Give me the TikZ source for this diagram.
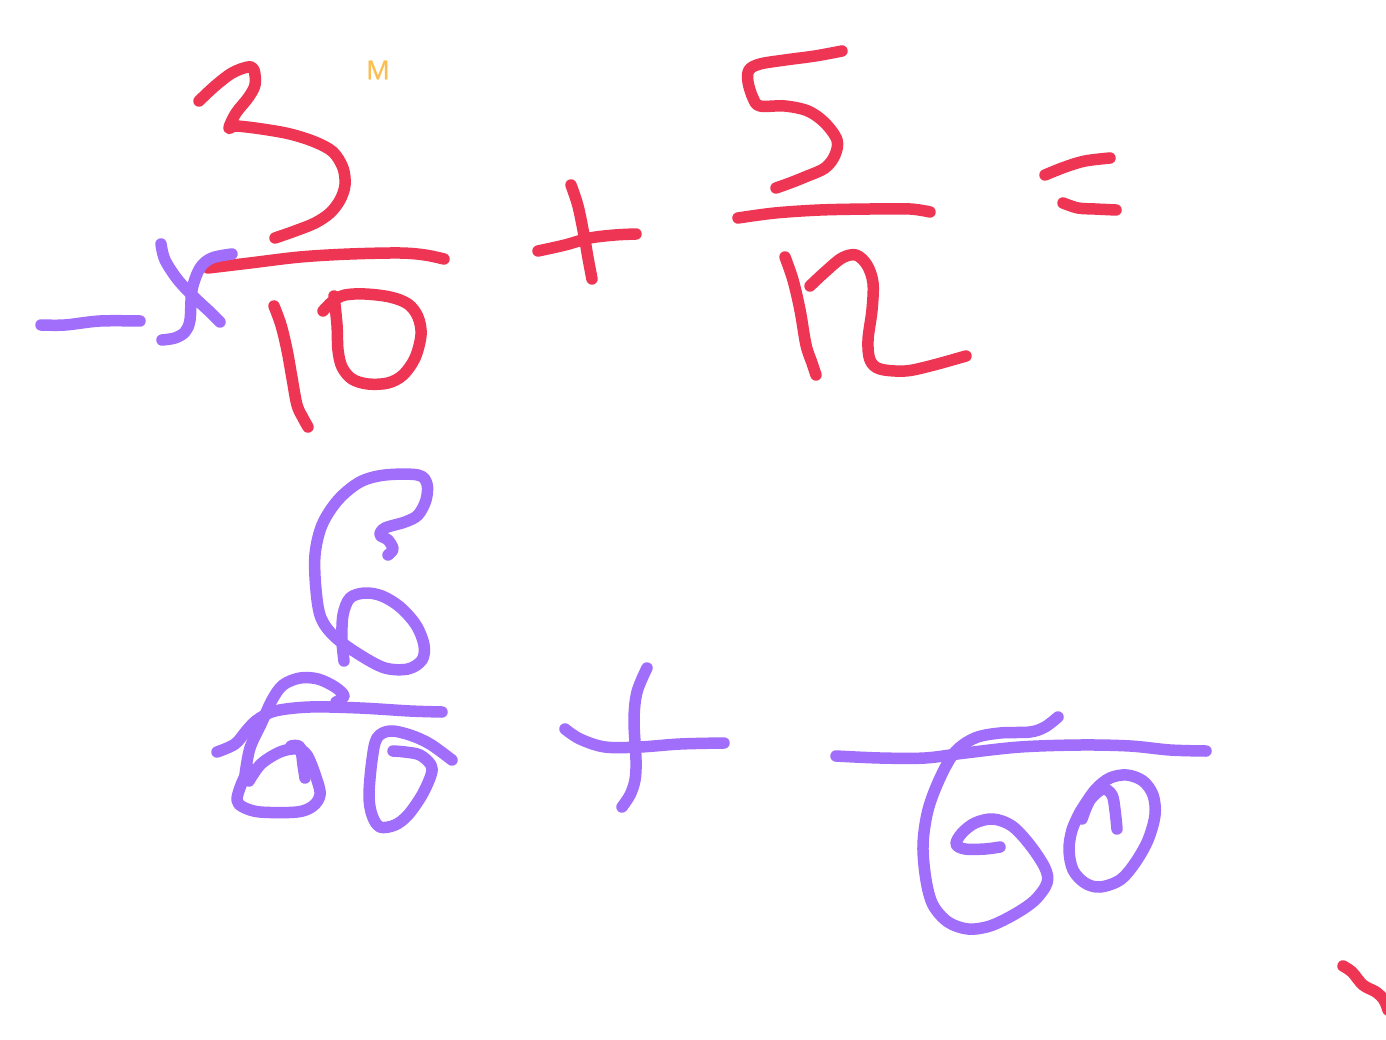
\documentclass[tikz,border=0pt]{standalone}
\usepackage{fontspec}
\setmainfont{Open Sans}
\definecolor{inkred}{HTML}{EE3553}
\definecolor{inkviolet}{HTML}{A06EFA}
\definecolor{inkgold}{HTML}{FBBE50}
\tikzset{
  pen/.style={line width=11.5pt,line cap=round,line join=round},
  redpen/.style={pen,draw=inkred},
  violetpen/.style={pen,draw=inkviolet},
  sm/.style={smooth,tension=0.55},
}
\newcommand{\redstroke}[1]{\draw[redpen] plot[sm] coordinates {#1};}
\newcommand{\vistroke}[1]{\draw[violetpen] plot[sm] coordinates {#1};}
\begin{document}
\begin{tikzpicture}[x=1pt,y=-1pt]
\useasboundingbox (0,0) rectangle (1386,1040);
\fill[white] (0,0) rectangle (1386,1040);
\begin{scope}
\path[clip,rounded corners=12pt] (0,0) rectangle (1386,1040);
% ---- red strokes
% 3
\redstroke{(199,101)(215,86)(232,73)(248,67)(254,70)(255,85)(248,98)(236,113)(229,128)(236,126)(262,129)(290,134)(315,142)(333,152)(343,168)(345,185)(340,200)(330,213)(315,223)(295,231)(275,238)}
% fraction bar 1
\redstroke{(208,268)(250,263)(300,257)(350,254)(400,253)(425,255)(444,259)}
% 1
\redstroke{(274,306)(281,325)(287,350)(292,378)(297,405)(303,418)(308,427)}
% 0
\redstroke{(323,311)(333,301)(345,295)(365,294)(390,297)(408,304)(418,317)(421,335)(415,358)(403,375)(388,383)(368,384)(352,379)(342,367)(338,350)(337,325)(334,296)}
% plus
\redstroke{(571,185)(578,206)(584,235)(588,258)(592,279)}
\redstroke{(538,251)(565,245)(590,238)(615,235)(636,234)}
% 5
\redstroke{(842,51)(815,56)(785,60)(760,64)(749,70)(748,82)(753,98)(760,106)(785,106)(808,111)(825,123)(837,140)(835,155)(825,168)(805,177)(790,183)(776,188)}
% fraction bar 2
\redstroke{(738,218)(775,213)(820,210)(870,209)(910,209)(930,212)}
% 1
\redstroke{(785,257)(793,280)(800,310)(806,345)(812,363)(816,375)}
% 2
\redstroke{(810,286)(825,272)(842,258)(856,255)(867,265)(873,283)(872,310)(868,340)(870,360)(880,369)(905,371)(930,366)(966,356)}
% equals
\redstroke{(1045,175)(1065,167)(1085,161)(1110,158)}
\redstroke{(1063,203)(1078,208)(1095,209)(1116,210)}
% corner
\redstroke{(1343,966)(1352,972)(1363,985)(1376,992)(1384,1000)(1388,1010)}
% ---- violet strokes
% arrow
\vistroke{(41,325)(65,325)(100,321)(140,321)}
\vistroke{(161,244)(165,260)(178,280)(195,298)(210,312)(220,322)}
\vistroke{(232,254)(212,258)(200,268)(192,290)(190,320)(185,332)(175,338)(162,340)}
% 6
\vistroke{(388,555)(393,549)(388,540)(380,535)(385,528)(405,522)(418,515)(426,500)(427,484)(418,475)(385,475)(360,482)(338,500)(322,525)(315,555)(316,590)(321,618)(335,637)(360,655)(385,668)(408,669)(422,660)(424,645)(416,625)(400,607)(382,596)(365,593)(350,598)(343,615)(342,640)(344,661)}
% fraction bar 3 with tail
\vistroke{(217,752)(235,744)(247,730)(257,720)(275,711)(310,707)(360,708)(410,711)(442,712)}
% 6 top + 0
\vistroke{(336,702)(344,696)(335,687)(318,679)(300,678)(283,685)(272,700)(262,722)(250,748)(245,775)}
\vistroke{(249,781)(261,764)(280,752)(296,749)(307,755)(317,780)(320,795)(313,806)(297,812)(260,812)(243,807)(237,800)(241,785)(249,768)}
\vistroke{(291,746)(300,747)(303,765)(305,778)}
\vistroke{(298,748)(303,752)(308,772)}
% second 0
\vistroke{(452,760)(430,744)(410,735)(390,731)(377,738)(372,760)(369,795)(372,815)(380,827)(395,825)(408,815)(422,795)(431,775)(431,765)(420,755)(405,752)(393,751)}
% plus
\vistroke{(647,668)(637,692)(634,720)(636,760)(635,780)(630,795)(622,807)}
\vistroke{(565,729)(580,739)(605,747)(640,747)(680,744)(724,743)}
% long bar
\vistroke{(836,756)(880,758)(925,758)(965,753)(1020,747)(1080,745)(1130,746)(1170,750)(1206,751)}
% 6
\vistroke{(1058,717)(1045,727)(1030,732)(1000,733)(975,738)(955,752)(940,778)(928,810)(923,845)(926,880)(933,905)(948,922)(968,929)(990,926)(1015,914)(1035,900)(1047,883)(1045,868)(1030,845)(1012,826)(993,819)(975,823)(962,833)(956,844)(965,849)(985,849)(1000,847)}
% 0
\vistroke{(1082,819)(1090,800)(1103,789)(1112,795)(1115,810)(1117,829)}
\vistroke{(1080,812)(1095,790)(1110,778)(1127,775)(1143,781)(1153,795)(1155,815)(1148,840)(1135,863)(1120,880)(1100,887)(1085,883)(1073,870)(1069,850)(1072,830)(1080,812)}
\end{scope}
\node[text=inkgold,font=\fontsize{26}{26}\selectfont\addfontfeature{FakeBold=1},inner sep=0pt] (marker) at (378,70) {M};
\end{tikzpicture}
\end{document}
